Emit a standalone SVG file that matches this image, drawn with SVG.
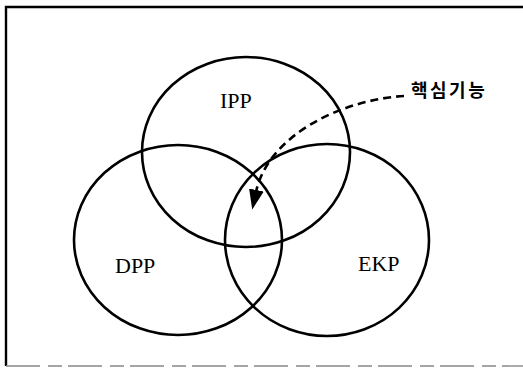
<svg xmlns="http://www.w3.org/2000/svg" width="523" height="368" viewBox="0 0 523 368">
<style>
.set{fill:none;stroke:#000;stroke-width:2.6}
.lbl{font-family:"Liberation Serif","Times New Roman",serif;font-size:22px;fill:#000}
.kor{font-family:"Noto Sans CJK KR","Noto Sans",sans-serif;font-size:18px;font-weight:700;letter-spacing:2.5px;fill:#000}
.frame{fill:none;stroke:#000;stroke-width:2.4}
</style>
<defs>
<marker id="arrow" markerWidth="20" markerHeight="15" refX="2" refY="7.5" orient="auto" markerUnits="userSpaceOnUse" viewBox="0 0 20 15">
<path d="M0 0 L20 7.5 L0 15 Z" fill="#000"/>
</marker>
</defs>
<rect width="523" height="368" fill="#fff"/>
<g id="frame">
<path class="frame" d="M523 7 L6 7 L6 366"/>
<path d="M6 366 L523 366" fill="none" stroke="#888" stroke-width="1.4" stroke-dasharray="34 8 14 6"/>
</g>
<g id="ipp">
<ellipse class="set" cx="246" cy="152" rx="104" ry="95"/>
<text class="lbl" x="220" y="108">IPP</text>
</g>
<g id="dpp">
<ellipse class="set" cx="178" cy="240" rx="104" ry="95"/>
<text class="lbl" x="115" y="273">DPP</text>
</g>
<g id="ekp">
<ellipse class="set" cx="327" cy="240" rx="102" ry="96"/>
<text class="lbl" x="358" y="271">EKP</text>
</g>
<g id="core">
<text class="kor" x="411" y="97">핵심기능</text>
</g>
<g id="connectors">
<path d="M404 96 C340 100 268 136 256 192" fill="none" stroke="#000" stroke-width="2.6" stroke-dasharray="8 5" marker-end="url(#arrow)"/>
</g>
</svg>
